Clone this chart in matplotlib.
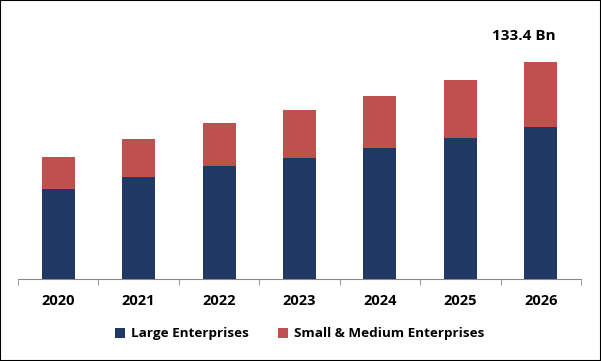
import matplotlib
matplotlib.use('Agg')
import matplotlib.pyplot as plt
import numpy as np

years = ['2020', '2021', '2022', '2023', '2024', '2025', '2026']
large = [55.3, 62.7, 69.5, 74.4, 80.5, 86.7, 93.4]
small_medium = [19.7, 23.4, 26.4, 29.5, 32.0, 35.6, 40.0]
total_label = '133.4 Bn'

navy = '#1F3864'
red = '#C0504D'

plt.rcParams['font.family'] = ['Open Sans', 'DejaVu Sans']

fig = plt.figure(figsize=(6.01, 3.61), dpi=100)
ax = fig.add_axes([18 / 601, 82 / 361, 563 / 601, 269 / 361])

x = np.arange(len(years))
ax.bar(x, large, width=0.41, color=navy, label='Large Enterprises')
ax.bar(x, small_medium, width=0.41, bottom=large, color=red,
       label='Small & Medium Enterprises')

top = large[-1] + small_medium[-1]
ax.annotate(total_label, (x[-1], top), xytext=(-12, 14), textcoords='offset points',
            ha='center', va='bottom', fontsize=11, fontweight='bold')

ax.set_xlim(-0.5, len(years) - 0.5)
ax.set_ylim(0, 165.4)
ax.set_yticks([])
ax.set_xticks(x)
ax.set_xticklabels(years, fontsize=10.5, fontweight='bold')
ax.set_xticks(np.arange(len(years) + 1) - 0.5, minor=True)
ax.tick_params(axis='x', which='major', length=0, pad=11)
ax.tick_params(axis='x', which='minor', length=4, color='#888888')
for s in ['top', 'left', 'right']:
    ax.spines[s].set_visible(False)
ax.spines['bottom'].set_color('#888888')

ax.legend(loc='upper center', bbox_to_anchor=(0.5, -0.135), ncol=2, frameon=False,
          prop={'size': 9.7, 'weight': 'bold'}, handlelength=0.75, handleheight=0.75,
          handletextpad=0.4, columnspacing=2.2)

fig.patches.append(plt.Rectangle((0, 0), 1, 1, transform=fig.transFigure,
                                 fill=False, edgecolor='black', linewidth=1.5))

fig.savefig('out.png', dpi=100)
